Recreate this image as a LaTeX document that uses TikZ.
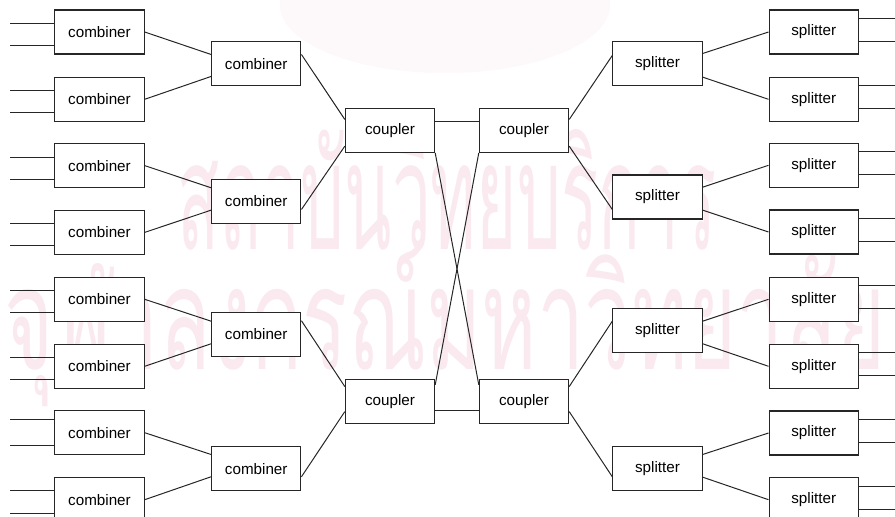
\documentclass[tikz,border=0pt]{standalone}
\usepackage{fontspec}
\usepackage{graphicx}
\setmainfont{Liberation Sans}
\newfontfamily\thaifont[Script=Thai]{Loma}
\usetikzlibrary{calc}
\definecolor{wm}{RGB}{250,234,240}
\definecolor{logo}{RGB}{253,248,249}
\begin{document}
\begin{tikzpicture}[x=0.75pt,y=-0.75pt,
  box/.style={draw=black!85,line width=0.8pt,fill=white,minimum width=67pt,minimum height=33pt,inner sep=0pt,font=\fontsize{11.4}{13}\selectfont},
  wire/.style={draw=black!85,line width=0.75pt}]
\useasboundingbox (0,0) rectangle (895,517);
% watermark
\fill[logo] (445,5) ellipse (165 and 68);
\node[text=wm,inner sep=0pt] at (447,190) {\resizebox{404pt}{90pt}{\thaifont สถาบันวิทยบริการ}};
\node[text=wm,inner sep=0pt] at (445,325) {\resizebox{660pt}{94pt}{\thaifont จุฬาลงกรณ์มหาวิทยาลัย}};
% left combiners
\foreach \i/\t/\a/\b in {0/10/14/36,1/77.3/12.7/35.3,2/143.6/13.5/35.5,3/210.4/13.5/35.5,4/277.3/13.4/35,5/344.3/13/35,6/410.7/8.5/34.5,7/477.7/13/35.7}{
  \node[box] (lc\i) at (99.5,\t+22) {combiner};
  \coordinate (la\i) at (10,\t+\a);
  \coordinate (lb\i) at (10,\t+\b);
  \draw[wire] (la\i) -- (la\i -| lc\i.west);
  \draw[wire] (lb\i) -- (lb\i -| lc\i.west);
}
% second-level combiners
\foreach \i/\t in {1/41.7,2/179.3,3/312.3,4/446.7}{
  \node[box] (m\i) at (256.25,\t+22) {combiner};
}
% couplers
\node[box] (c1) at (390,130.3) {coupler};
\node[box] (c2) at (524,130.3) {coupler};
\node[box] (c3) at (390,401.7) {coupler};
\node[box] (c4) at (524,401.7) {coupler};
% first-level splitters
\foreach \i/\t in {1/41.7,2/175,3/308.3,4/446.7}{
  \node[box] (s\i) at (657.5,\t+22) {splitter};
}
% right splitters
\foreach \i/\t in {0/10,1/77.3,2/143.3,3/210,4/277.3,5/344.3,6/411,7/477.7}{
  \node[box] (r\i) at (813.7,\t+22) {splitter};
  \coordinate (ra\i) at (895,\t+8.5);
  \coordinate (rb\i) at (895,\t+31.5);
  \draw[wire] (ra\i -| r\i.east) -- (ra\i);
  \draw[wire] (rb\i -| r\i.east) -- (rb\i);
}
% combiner -> combiner
\draw[wire] (lc0.east) -- ($(m1.north west)+(0,13.3)$);
\draw[wire] (lc1.east) -- ($(m1.north west)+(0,35.3)$);
\draw[wire] (lc2.east) -- ($(m2.north west)+(0,9)$);
\draw[wire] (lc3.east) -- ($(m2.north west)+(0,31.4)$);
\draw[wire] (lc4.east) -- ($(m3.north west)+(0,9.4)$);
\draw[wire] (lc5.east) -- ($(m3.north west)+(0,32)$);
\draw[wire] (lc6.east) -- ($(m4.north west)+(0,8.3)$);
\draw[wire] (lc7.east) -- ($(m4.north west)+(0,30.6)$);
% combiner -> coupler
\draw[wire] ($(m1.north east)+(0,13.3)$) -- ($(c1.north west)+(0,11.7)$);
\draw[wire] ($(m2.north east)+(0,30.7)$) -- ($(c1.north west)+(0,38.4)$);
\draw[wire] ($(m3.north east)+(0,9)$) -- ($(c3.north west)+(0,7.4)$);
\draw[wire] ($(m4.north east)+(0,30.6)$) -- ($(c3.north west)+(0,32.4)$);
% coupler links
\draw[wire] ($(c1.north east)+(0,13.4)$) -- ($(c2.north west)+(0,13.4)$);
\draw[wire] ($(c3.north east)+(0,31.4)$) -- ($(c4.north west)+(0,31.4)$);
\draw[wire] (c1.south east) -- ($(c4.north west)+(0,5.7)$);
\draw[wire] (c2.south west) -- ($(c3.north east)+(0,5.7)$);
% coupler -> splitter
\draw[wire] ($(c2.north east)+(0,11.7)$) -- ($(s1.north west)+(0,14.3)$);
\draw[wire] ($(c2.north east)+(0,38.4)$) -- ($(s2.north west)+(0,35)$);
\draw[wire] ($(c4.north east)+(0,7.4)$) -- ($(s3.north west)+(0,13.4)$);
\draw[wire] ($(c4.north east)+(0,32.4)$) -- ($(s4.north west)+(0,30.6)$);
% splitter -> splitter
\draw[wire] ($(s1.north east)+(0,12.3)$) -- (r0.west);
\draw[wire] ($(s1.north east)+(0,36)$) -- (r1.west);
\draw[wire] ($(s2.north east)+(0,12.7)$) -- (r2.west);
\draw[wire] ($(s2.north east)+(0,35.7)$) -- (r3.west);
\draw[wire] ($(s3.north east)+(0,13.4)$) -- (r4.west);
\draw[wire] ($(s3.north east)+(0,36)$) -- (r5.west);
\draw[wire] ($(s4.north east)+(0,8.3)$) -- (r6.west);
\draw[wire] ($(s4.north east)+(0,31)$) -- (r7.west);
\end{tikzpicture}
\end{document}
